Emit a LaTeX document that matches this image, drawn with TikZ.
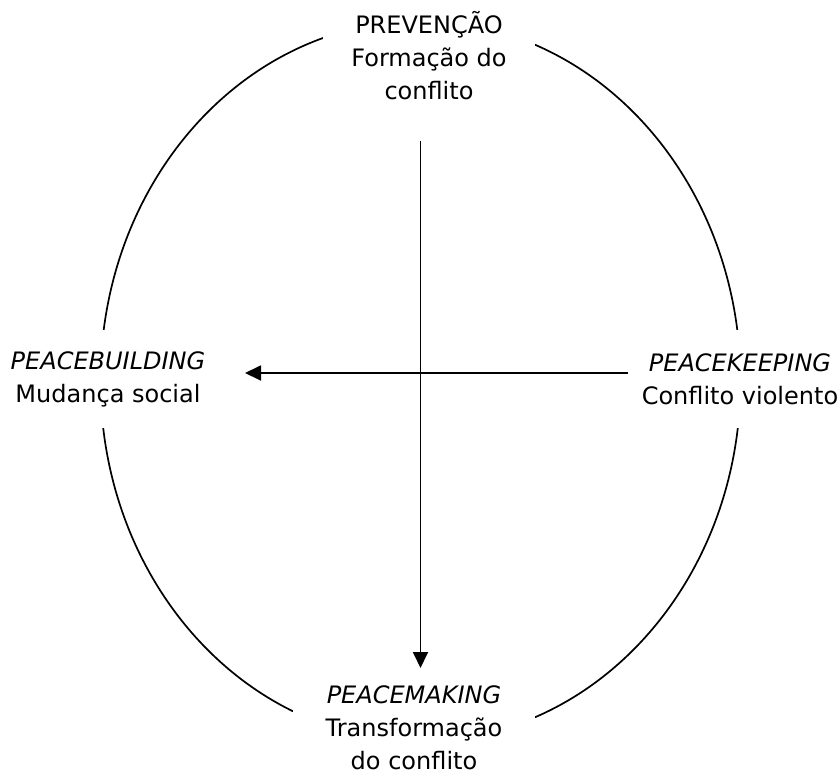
\documentclass[tikz,border=0pt]{standalone}
\usepackage{fontspec}
\setmainfont{DejaVu Sans}
\usetikzlibrary{arrows.meta}
\tikzset{
  stage/.style={align=center, fill=white, inner sep=0pt, font=\fontsize{24}{33}\selectfont},
  flow/.style={line width=1.8pt, -{Triangle[length=16pt,width=15pt]}}
}
\begin{document}
\begin{tikzpicture}[x=1pt,y=-1pt]
\useasboundingbox (0,0) rectangle (839,774);
\draw[line width=1.7pt] (420.5,381) ellipse [x radius=320pt, y radius=360pt];
\node[stage, minimum width=212pt] at (429,56) (prev) {PREVENÇÃO\\Formação do\\conflito};
\node[stage, minimum height=98pt] at (108,379) (build) {\textit{PEACEBUILDING}\\Mudança social};
\node[stage, minimum height=98pt] at (740,379) (keep) {\textit{PEACEKEEPING}\\Conflito violento};
\node[stage, minimum width=242pt] at (414,728) (make) {\textit{PEACEMAKING}\\Transformação\\do conflito};
\coordinate (vtop) at (420.5,141);
\coordinate (vend) at (420.5,668);
\coordinate (hstart) at (628,373);
\coordinate (hend) at (245,373);
\draw[flow] (vtop)--(vend);
\draw[flow] (hstart)--(hend);
\end{tikzpicture}
\end{document}
